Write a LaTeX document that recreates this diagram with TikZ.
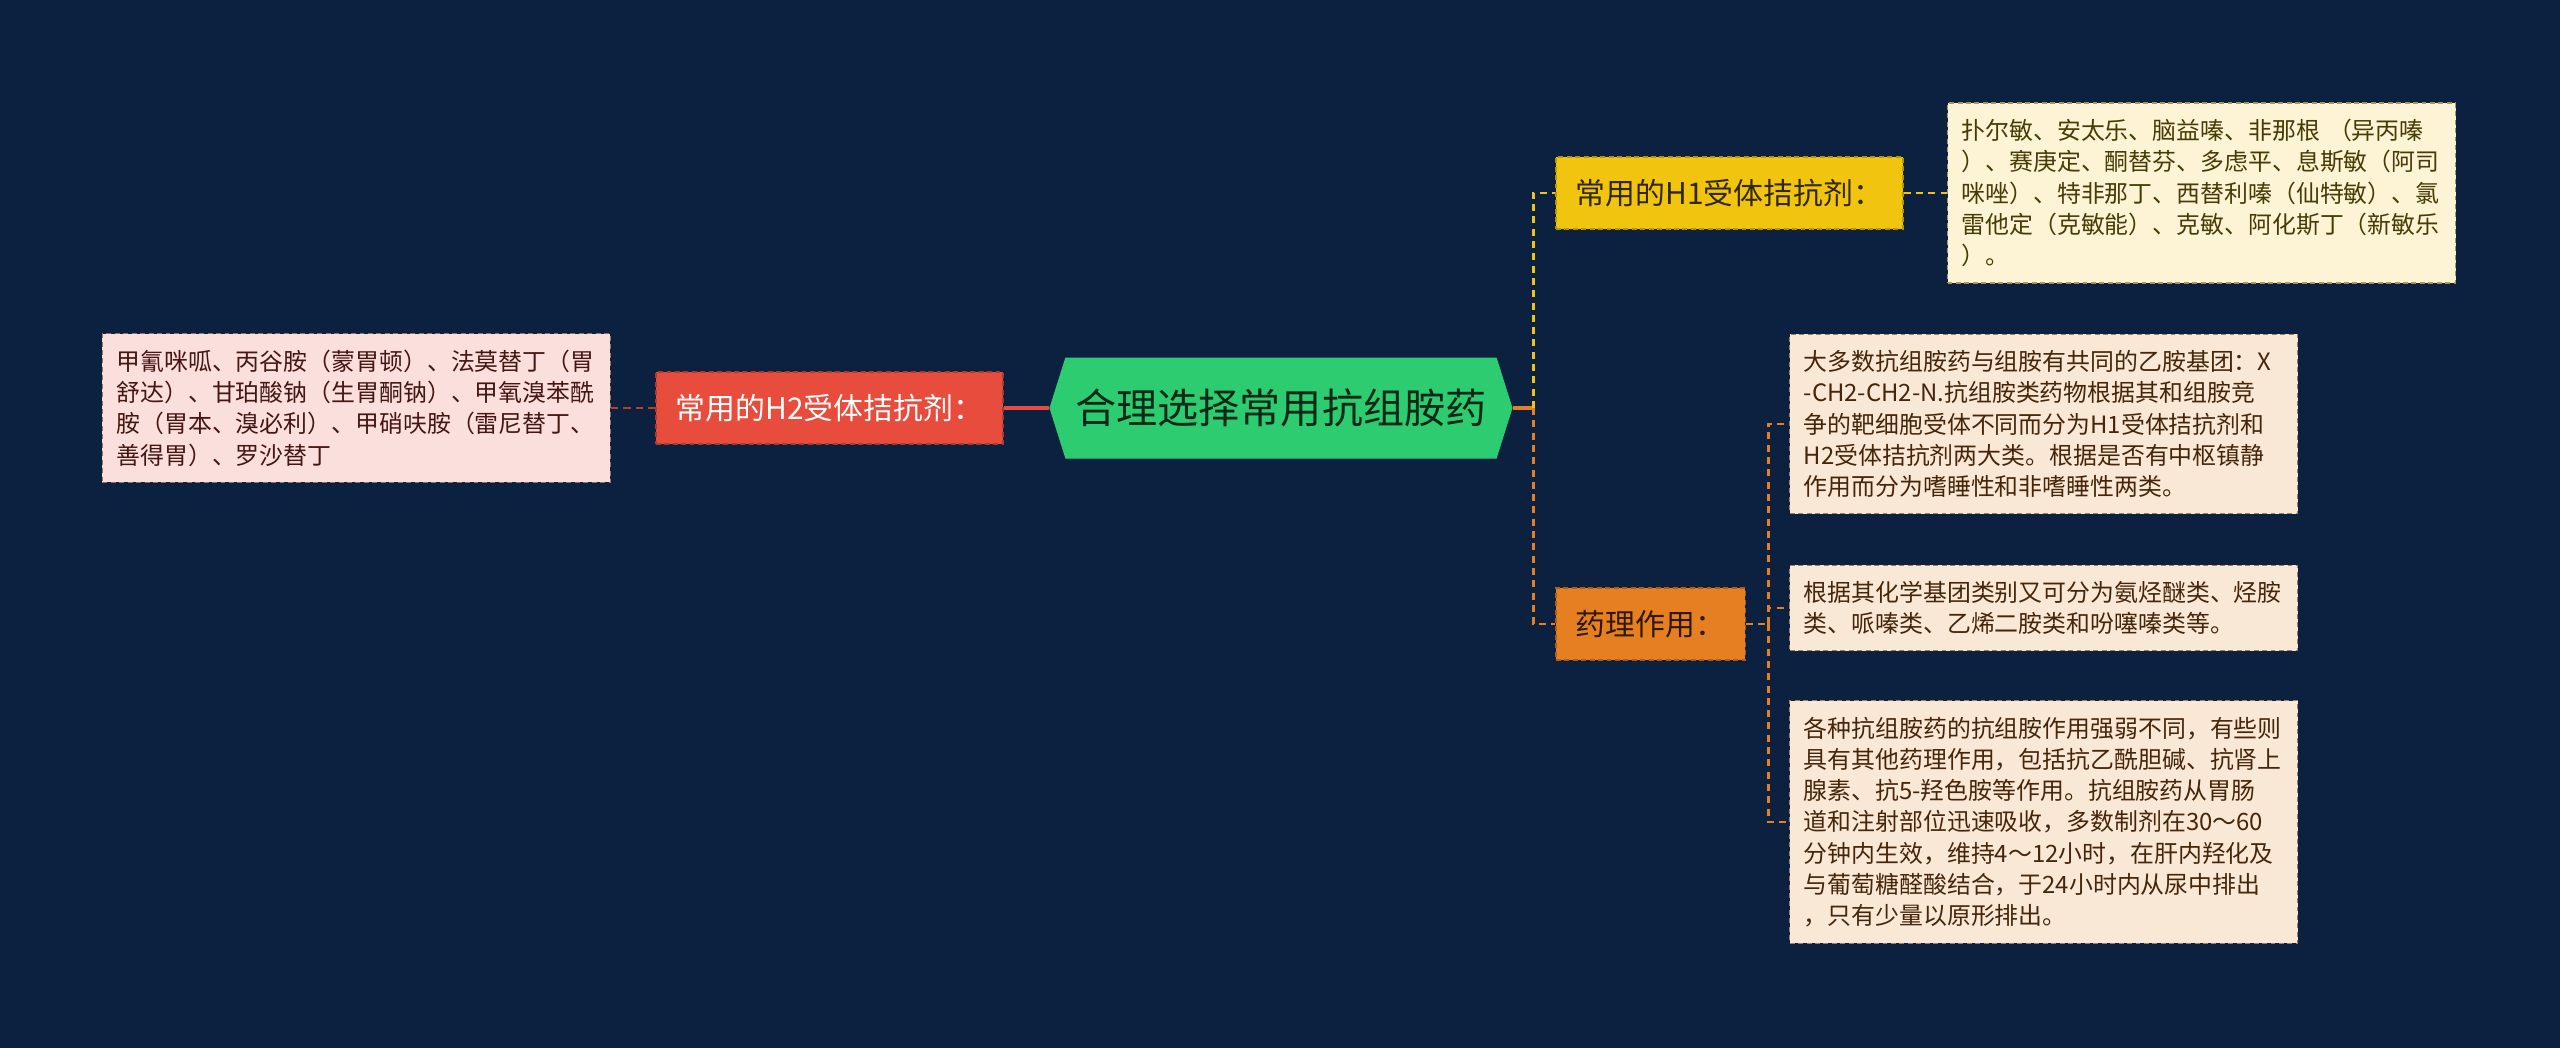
\documentclass[tikz,border=0pt]{standalone}
\usepackage{fontspec}
\usepackage{xcolor}
\usepackage{tikz}
\usetikzlibrary{positioning,calc,shapes.symbols}
\newfontfamily\cjk{Noto Sans CJK SC}
\definecolor{mapnavy}{HTML}{0C2140}
\definecolor{mapgreen}{HTML}{2ECC71}
\definecolor{mapred}{HTML}{E74C3C}
\definecolor{mapyellow}{HTML}{F1C40F}
\definecolor{maporange}{HTML}{E67E22}

\begin{document}
\begin{tikzpicture}[
  x=1mm,y=1mm,
  every node/.style={font=\cjk,align=left},
  hub/.style={shape=signal,signal to=west and east,signal pointer angle=145,fill=mapgreen,text=mapgreen!20!black,minimum width=45.7mm,minimum height=10.1mm,inner xsep=1mm,font=\cjk\fontsize{11.7pt}{14pt}\selectfont},
  branch/.style={draw=#1!75!black,fill=#1,dash pattern=on 1.4pt off 1pt,minimum height=7.2mm,inner xsep=2mm,font=\cjk\fontsize{8.5pt}{10pt}\selectfont},
  leaf/.style={draw=#1!35!gray,fill=#1!18,text=#1!30!black,dash pattern=on 1.4pt off 1pt,text width=48mm,inner xsep=1.4mm,inner ysep=1.6mm,font=\cjk\fontsize{6.8pt}{8.9pt}\selectfont},
  link/.style={draw=#1,line width=1.1pt},
  trail/.style={draw=#1,line width=0.85pt,dash pattern=on 2pt off 1.5pt}
]
\fill[mapnavy] (-128.1,-64) rectangle (127.9,40.8);

\node[hub] (root) at (0,0) {合理选择常用抗组胺药};
\node[branch=mapred,text=white,left=4.5mm of root] (h2) {常用的H2受体拮抗剂：};
\node[leaf=mapred,left=4.4mm of h2] (h2drugs) {甲氰咪呱、丙谷胺（蒙胃顿）、法莫替丁（胃\\舒达）、甘珀酸钠（生胃酮钠）、甲氧溴苯酰\\胺（胃本、溴必利）、甲硝呋胺（雷尼替丁、\\善得胃）、罗沙替丁};
\node[branch=mapyellow,text=mapyellow!20!black,right=4.2mm of root,yshift=21.5mm] (h1) {常用的H1受体拮抗剂：};
\node[leaf=mapyellow,right=4.3mm of h1] (h1drugs) {扑尔敏、安太乐、脑益嗪、非那根 （异丙嗪\\）、赛庚定、酮替芬、多虑平、息斯敏（阿司\\咪唑）、特非那丁、西替利嗪（仙特敏）、氯\\雷他定（克敏能）、克敏、阿化斯丁（新敏乐\\）。};
\node[branch=maporange,text=maporange!20!black,right=4.2mm of root,yshift=-21.6mm] (action) {药理作用：};
\node[leaf=maporange,right=4.3mm of action,yshift=20mm] (group) {大多数抗组胺药与组胺有共同的乙胺基团：X\\-CH2-CH2-N.抗组胺类药物根据其和组胺竞\\争的靶细胞受体不同而分为H1受体拮抗剂和\\H2受体拮抗剂两大类。根据是否有中枢镇静\\作用而分为嗜睡性和非嗜睡性两类。};
\node[leaf=maporange,right=4.3mm of action,yshift=1.6mm] (chem) {根据其化学基团类别又可分为氨烃醚类、烃胺\\类、哌嗪类、乙烯二胺类和吩噻嗪类等。};
\node[leaf=maporange,right=4.3mm of action,yshift=-19.8mm] (effect) {各种抗组胺药的抗组胺作用强弱不同，有些则\\具有其他药理作用，包括抗乙酰胆碱、抗肾上\\腺素、抗5-羟色胺等作用。抗组胺药从胃肠\\道和注射部位迅速吸收，多数制剂在30～60\\分钟内生效，维持4～12小时，在肝内羟化及\\与葡萄糖醛酸结合，于24小时内从尿中排出\\，只有少量以原形排出。};

\coordinate (rbus) at ($(root.east)+(2,0)$);
\coordinate (abus) at ($(action.east)+(2.2,0)$);

\draw[link=mapred] (root.west) -- (h2.east);
\draw[trail=mapred!80!black] (h2.west) -- (h2drugs.east);
\draw[link=maporange] (root.east) -- (rbus);
\draw[trail=mapyellow] (rbus) |- (h1.west);
\draw[trail=maporange] (rbus) |- (action.west);
\draw[trail=mapyellow] (h1.east) -- (h1drugs.west);
\draw[trail=maporange] (action.east) -- (abus);
\draw[trail=maporange] (abus) |- (group.west);
\draw[trail=maporange] (abus) |- (chem.west);
\draw[trail=maporange] (abus) |- (effect.west);
\end{tikzpicture}
\end{document}
